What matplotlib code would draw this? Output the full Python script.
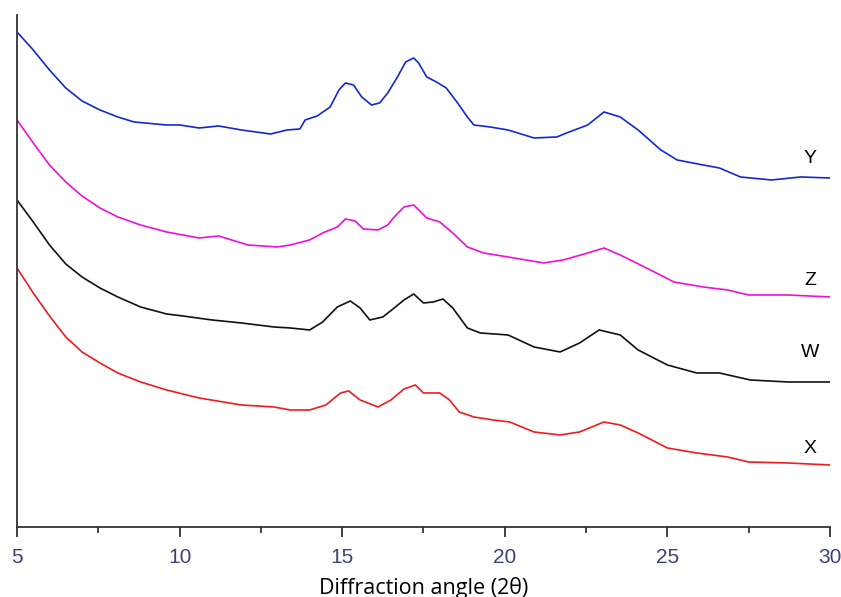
import matplotlib.pyplot as plt
from matplotlib.ticker import MultipleLocator

# 2-theta positions and intensities (arbitrary units)
x_Y = [5.0, 5.5, 6.0, 6.5, 7.0, 7.55, 8.1, 8.6, 9.6, 10.0, 10.6, 11.2, 11.9, 12.8, 13.3,
       13.7, 13.86, 14.23, 14.63, 14.9, 15.1, 15.35, 15.6, 15.9, 16.15, 16.4, 16.7, 16.95,
       17.2, 17.35, 17.6, 17.9, 18.2, 18.55, 18.85, 19.05, 19.55, 20.1, 20.9, 21.6, 21.9,
       22.55, 23.05, 23.55, 24.1, 24.8, 25.3, 26.1, 26.6, 27.25, 28.2, 29.1, 30.0]
y_Y = [495, 477, 457, 439, 426, 417, 410, 405, 402, 402, 399, 401, 397, 393, 397,
       398, 407, 411, 420, 437, 444, 442, 430, 422, 424, 434, 450, 465,
       469, 464, 450, 445, 439, 424, 410, 402, 400, 397, 389, 390, 394,
       402, 415, 410, 397, 377, 367, 362, 359, 350, 347, 350, 349]

x_Z = [5.0, 5.5, 6.0, 6.5, 7.0, 7.55, 8.1, 8.8, 9.6, 10.6, 11.2, 12.1, 13.0, 13.4, 14.0,
       14.4, 14.85, 15.1, 15.4, 15.65, 16.1, 16.4, 16.6, 16.9, 17.2, 17.6, 18.0, 18.4,
       18.85, 19.35, 20.1, 21.2, 21.8, 22.55, 23.05, 23.55, 24.6, 25.2, 26.1, 26.85,
       27.5, 28.7, 30.0]
y_Z = [407, 384, 362, 345, 331, 319, 310, 302, 295, 289, 291, 282, 280, 282, 287,
       294, 300, 308, 306, 298, 297, 302, 310, 320, 322, 309, 305, 294,
       280, 274, 270, 264, 267, 274, 279, 272, 255, 245, 240, 237,
       232, 232, 230]

x_W = [5.0, 5.5, 6.0, 6.5, 7.0, 7.55, 8.1, 8.8, 9.6, 10.1, 11.0, 11.9, 12.9, 13.4, 14.0,
       14.4, 14.85, 15.25, 15.55, 15.85, 16.25, 16.6, 16.9, 17.2, 17.5, 17.8, 18.1, 18.4,
       18.85, 19.25, 20.1, 20.9, 21.7, 22.3, 22.9, 23.55, 24.1, 25.0, 25.9, 26.6, 27.55,
       28.7, 30.0]
y_W = [327, 305, 282, 263, 250, 239, 230, 220, 213, 211, 207, 204, 200, 199, 197,
       205, 220, 226, 219, 207, 210, 219, 227, 233, 224, 225, 228, 219,
       199, 194, 192, 180, 175, 184, 197, 192, 177, 162, 154, 154, 147,
       145, 145]

x_X = [5.0, 5.5, 6.0, 6.5, 7.0, 7.55, 8.1, 8.8, 9.6, 10.6, 11.9, 12.9, 13.4, 14.0, 14.5,
       14.95, 15.2, 15.55, 16.1, 16.5, 16.9, 17.25, 17.5, 18.0, 18.3, 18.6, 19.05, 19.65,
       20.15, 20.9, 21.7, 22.3, 23.05, 23.55, 24.1, 25.0, 25.9, 26.85, 27.5, 28.7, 30.0]
y_X = [259, 234, 211, 190, 175, 164, 154, 145, 137, 129, 122, 120, 117, 117, 122,
       134, 136, 127, 120, 127, 138, 142, 134, 134, 127, 115, 110, 107,
       105, 95, 92, 95, 105, 102, 94, 79, 74, 70, 65, 64, 62]

series = [
    (x_Y, y_Y, '#1428d2', 'Y', 368),
    (x_Z, y_Z, '#ee10d8', 'Z', 246),
    (x_W, y_W, '#111111', 'W', 174),
    (x_X, y_X, '#f01c1c', 'X', 78),
]

fig = plt.figure(figsize=(8.41, 5.97), dpi=100)
ax = fig.add_axes([0.0202, 0.1173, 0.9667, 0.8576])

for xs, ys, color, name, label_y in series:
    ax.plot(xs, ys, color=color, linewidth=1.2)
    ax.text(29.4, label_y, name, fontsize=14, color='black',
            family='Liberation Sans', ha='center', va='center')

ax.set_xlim(5, 30)
ax.set_ylim(0, 512)

ax.spines['top'].set_visible(False)
ax.spines['right'].set_visible(False)
for side in ('left', 'bottom'):
    ax.spines[side].set_color('#333333')
    ax.spines[side].set_linewidth(1.3)

ax.set_yticks([])
ax.xaxis.set_major_locator(MultipleLocator(5))
ax.xaxis.set_minor_locator(MultipleLocator(2.5))
ax.tick_params(axis='x', which='major', direction='out', length=7, width=1.3,
               color='#333333', labelsize=15, labelcolor='#3a4575', pad=8)
ax.tick_params(axis='x', which='minor', direction='out', length=4, width=1.3,
               color='#333333')
for lab in ax.get_xticklabels():
    lab.set_family('Liberation Sans')

ax.set_xlabel('Diffraction angle (2θ)', fontsize=15.5, family='Open Sans', labelpad=7)

fig.savefig('out.png', dpi=100)
